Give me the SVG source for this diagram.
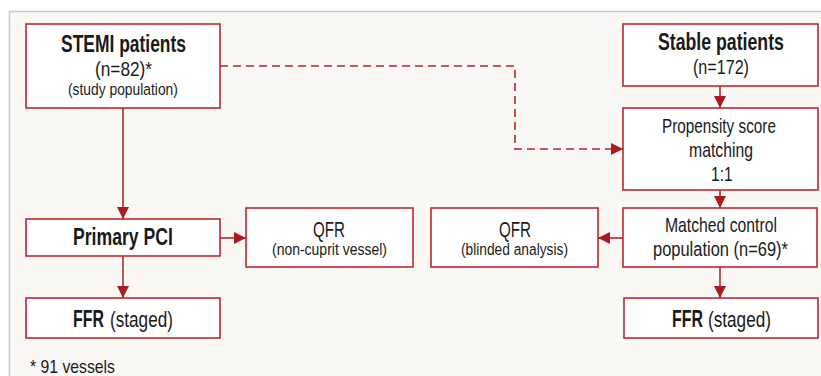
<svg xmlns="http://www.w3.org/2000/svg" width="821" height="376" viewBox="0 0 821 376">
<style>
.box{fill:#ffffff;stroke:#c0272d;stroke-width:1.6}
.t{font-family:"Liberation Sans",Arial,sans-serif;fill:#1a1a1a}
.b{font-weight:bold}
.con{fill:none;stroke:#b3282b;stroke-width:1.6}
.dash{stroke-dasharray:8 5}
</style>
<defs>
<marker id="ah" markerUnits="userSpaceOnUse" markerWidth="12" markerHeight="12" refX="12" refY="6" orient="auto" viewBox="0 0 12 12">
<path d="M0,0 L12,6 L0,12 z" fill="#a81b1e"/>
</marker>
</defs>
<rect x="9.5" y="11.5" width="830" height="400" fill="#f9f8f5" stroke="#c8c8c8" stroke-width="1.5"/>
<g id="connectors">
<path class="con" d="M123,108 V219" marker-end="url(#ah)"/>
<path class="con" d="M220,238 H246" marker-end="url(#ah)"/>
<path class="con" d="M123,256 V298" marker-end="url(#ah)"/>
<path class="con" d="M720,86 V108" marker-end="url(#ah)"/>
<path class="con" d="M720,190 V208" marker-end="url(#ah)"/>
<path class="con" d="M623,238 H598" marker-end="url(#ah)"/>
<path class="con" d="M720,267 V298" marker-end="url(#ah)"/>
<path class="con dash" d="M220,66 H515 V149 H623" marker-end="url(#ah)"/>
</g>
<g id="stemi">
<rect class="box" x="26" y="24" width="194" height="84"/>
<text class="t b" font-size="24" transform="translate(61,52) scale(0.727,1)">STEMI patients</text>
<text class="t" font-size="20" transform="translate(95,76) scale(0.862,1)">(n=82)*</text>
<text class="t" font-size="17" transform="translate(68,95) scale(0.814,1)">(study population)</text>
</g>
<g id="stable">
<rect class="box" x="623" y="24" width="195" height="62"/>
<text class="t b" font-size="24" transform="translate(658,50) scale(0.738,1)">Stable patients</text>
<text class="t" font-size="20" transform="translate(693,74) scale(0.806,1)">(n=172)</text>
</g>
<g id="propensity">
<rect class="box" x="623" y="108" width="195" height="82"/>
<text class="t" font-size="21" transform="translate(662,133) scale(0.729,1)">Propensity score</text>
<text class="t" font-size="21" transform="translate(689,157) scale(0.751,1)">matching</text>
<text class="t" font-size="21" transform="translate(711,181) scale(0.74,1)">1:1</text>
</g>
<g id="matched">
<rect class="box" x="623" y="208" width="194" height="59"/>
<text class="t" font-size="21" transform="translate(665,232) scale(0.75,1)">Matched control</text>
<text class="t" font-size="21" transform="translate(653,256) scale(0.784,1)">population (n=69)*</text>
</g>
<g id="qfr-blinded">
<rect class="box" x="431" y="208" width="167" height="59"/>
<text class="t" font-size="22" transform="translate(499,237) scale(0.69,1)">QFR</text>
<text class="t" font-size="17" transform="translate(461,255) scale(0.809,1)">(blinded analysis)</text>
</g>
<g id="ffr-control">
<rect class="box" x="624" y="298" width="194" height="40"/>
<text class="t b" font-size="24" transform="translate(672,327) scale(0.664,1)">FFR</text>
<text class="t" font-size="22" transform="translate(708,327) scale(0.78,1)">(staged)</text>
</g>
<g id="primary-pci">
<rect class="box" x="26" y="219" width="194" height="37"/>
<text class="t b" font-size="24" transform="translate(73,245) scale(0.735,1)">Primary PCI</text>
</g>
<g id="qfr-nonculprit">
<rect class="box" x="246" y="208" width="167" height="59"/>
<text class="t" font-size="22" transform="translate(313,237) scale(0.69,1)">QFR</text>
<text class="t" font-size="17" transform="translate(272,255) scale(0.823,1)">(non-cuprit vessel)</text>
</g>
<g id="ffr-stemi">
<rect class="box" x="26" y="298" width="194" height="40"/>
<text class="t b" font-size="24" transform="translate(73,327) scale(0.664,1)">FFR</text>
<text class="t" font-size="22" transform="translate(110,327) scale(0.78,1)">(staged)</text>
</g>
<g id="footnote">
<text class="t" font-size="19" transform="translate(30,373) scale(0.83,1)">* 91 vessels</text>
</g>
</svg>
